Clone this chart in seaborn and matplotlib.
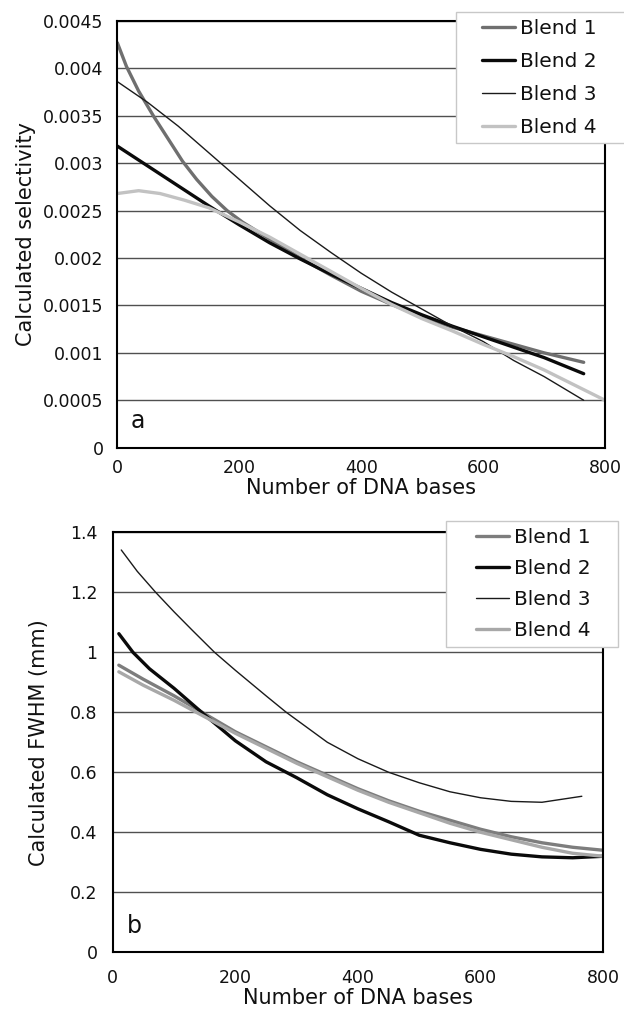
import numpy as np
import pandas as pd
import seaborn as sns
import matplotlib.pyplot as plt
from matplotlib.patches import Rectangle
from matplotlib.ticker import FuncFormatter, MultipleLocator

# DATA -------------------------------------------------------------------------------------------

blends = ['Blend 1', 'Blend 2', 'Blend 3', 'Blend 4']

# panel a: calculated selectivity vs number of DNA bases
sel_x_1 = [0, 15, 35, 60, 85, 107, 130, 155, 180, 205, 230, 260, 300, 350, 400, 450, 500,
           550, 600, 650, 700, 765]
sel_y_1 = [0.00427, 0.00402, 0.00376, 0.00349, 0.00324, 0.00302, 0.00283, 0.00265, 0.00250,
           0.00238, 0.00228, 0.00216, 0.00200, 0.00182, 0.00165, 0.00151, 0.00138, 0.00127,
           0.00118, 0.00109, 0.00100, 0.00090]
sel_x_2 = [0, 50, 100, 150, 200, 250, 300, 350, 400, 450, 500, 550, 600, 650, 700, 765]
sel_y_2 = [0.00318, 0.00297, 0.00276, 0.00255, 0.00235, 0.00216, 0.00199, 0.00183,
           0.00168, 0.00153, 0.00140, 0.00128, 0.00117, 0.00106, 0.00095, 0.00078]
sel_x_3 = [0, 50, 100, 150, 200, 250, 300, 350, 400, 450, 500, 550, 600, 650, 700, 765]
sel_y_3 = [0.00386, 0.00364, 0.00339, 0.00311, 0.00283, 0.00255, 0.00229, 0.00206,
           0.00184, 0.00164, 0.00146, 0.00128, 0.00112, 0.00092, 0.00075, 0.00050]
sel_x_4 = [0, 35, 70, 110, 150, 200, 250, 300, 350, 400, 450, 500, 550, 600, 650, 700, 750, 800]
sel_y_4 = [0.00268, 0.00271, 0.00268, 0.00261, 0.00253, 0.00238, 0.00222, 0.00204, 0.00186,
           0.00168, 0.00151, 0.00136, 0.00123, 0.00109, 0.00096, 0.00082, 0.00066, 0.00050]

# panel b: calculated FWHM (mm) vs number of DNA bases
fw_x_1 = [10, 50, 100, 150, 200, 250, 300, 350, 400, 450, 500, 550, 600, 650, 700, 750, 800]
fw_y_1 = [0.957, 0.91, 0.855, 0.795, 0.735, 0.685, 0.635, 0.59, 0.545, 0.505, 0.47,
          0.44, 0.41, 0.385, 0.365, 0.35, 0.34]
fw_x_2 = [10, 33, 60, 100, 145, 200, 250, 300, 350, 400, 450, 500, 550, 600, 650, 700, 750, 800]
fw_y_2 = [1.062, 1.0, 0.945, 0.88, 0.80, 0.705, 0.635, 0.582, 0.525, 0.478, 0.435, 0.39,
          0.365, 0.343, 0.327, 0.318, 0.315, 0.32]
fw_x_3 = [14, 40, 70, 100, 130, 166, 200, 250, 283, 350, 400, 450, 500, 550, 600, 650, 700, 765]
fw_y_3 = [1.341, 1.27, 1.20, 1.135, 1.073, 1.0, 0.94, 0.855, 0.80, 0.70, 0.645, 0.60, 0.565,
          0.535, 0.515, 0.503, 0.50, 0.52]
fw_x_4 = [10, 50, 100, 150, 200, 250, 300, 350, 400, 450, 500, 550, 600, 650, 700, 750, 800]
fw_y_4 = [0.935, 0.89, 0.84, 0.785, 0.73, 0.68, 0.63, 0.585, 0.54, 0.50, 0.465,
          0.43, 0.40, 0.375, 0.35, 0.33, 0.32]

# STYLE ------------------------------------------------------------------------------------------

sns.set_style("white")
plt.rcParams['font.family'] = ['DejaVu Sans']

styles_a = {'Blend 1': ('#6f6f6f', 2.4), 'Blend 2': ('#0a0a0a', 2.4),
            'Blend 3': ('#1a1a1a', 1.0), 'Blend 4': ('#c2c2c2', 2.4)}
styles_b = {'Blend 1': ('#7d7d7d', 2.4), 'Blend 2': ('#0a0a0a', 2.4),
            'Blend 3': ('#1a1a1a', 1.0), 'Blend 4': ('#a8a8a8', 2.4)}

W, H = 624, 1011
fig = plt.figure(figsize=(W / 100, H / 100), dpi=100)
ax_a = fig.add_axes([0.188, 0.5572, 0.7816, 0.4221])
ax_b = fig.add_axes([0.1806, 0.0581, 0.7862, 0.4154])

# per panel: ylabel, ymax, ystep, tag, legend anchor px, legend box px, labelspacing,
# x tick pad, y tick pad, ylabel pad
panels = [
    (ax_a, [(sel_x_1, sel_y_1), (sel_x_2, sel_y_2), (sel_x_3, sel_y_3), (sel_x_4, sel_y_4)],
     styles_a, 'Calculated selectivity', 0.0045, 0.0005, 'a',
     (482, 19), (456, 12, 630, 143), 0.7, 8, 10, 5),
    (ax_b, [(fw_x_1, fw_y_1), (fw_x_2, fw_y_2), (fw_x_3, fw_y_3), (fw_x_4, fw_y_4)],
     styles_b, 'Calculated FWHM (mm)', 1.4, 0.2, 'b',
     (476, 528), (446, 521, 618, 647), 0.6, 12, 11, 15),
]

for ax, series, styles, ylabel, ymax, ystep, tag, anchor, box, lsp, xpad, ypad, ylpad in panels:
    # grid first so the curves sit on top
    ax.yaxis.set_major_locator(MultipleLocator(ystep))
    ax.grid(axis='y', color='#505050', linewidth=1.0)
    ax.set_axisbelow(True)
    for name, (xs, ys) in zip(blends, series):
        color, lw = styles[name]
        df = pd.DataFrame({'x': xs, 'y': ys})
        sns.lineplot(data=df, x='x', y='y', ax=ax, color=color, linewidth=lw,
                     label=name, legend=False)
    ax.set_xlim(0, 800)
    ax.set_ylim(0, ymax)
    ax.xaxis.set_major_locator(MultipleLocator(200))
    ax.yaxis.set_major_formatter(FuncFormatter(lambda v, p: '{:g}'.format(round(v, 6))))
    ax.tick_params(axis='both', labelsize=12.5, length=0, labelcolor='#111111')
    ax.tick_params(axis='x', pad=xpad)
    ax.tick_params(axis='y', pad=ypad)
    ax.set_xlabel('Number of DNA bases', fontsize=15, labelpad=1, color='#111111')
    ax.set_ylabel(ylabel, fontsize=15, labelpad=ylpad, color='#111111')
    for s in ax.spines.values():
        s.set_color('black')
        s.set_linewidth(1.5)
    ax.text(0.028, 0.035, tag, transform=ax.transAxes, fontsize=17, va='bottom', ha='left',
            color='#111111')

    # legend box (Excel style, extra room on the left) and the legend entries
    x0, y0, x1, y1 = box
    fig.patches.append(Rectangle((x0 / W, 1 - y1 / H), (x1 - x0) / W, (y1 - y0) / H,
                                 transform=fig.transFigure, facecolor='white',
                                 edgecolor='#c8c8c8', linewidth=1.0, zorder=1))
    handles, labels = ax.get_legend_handles_labels()
    fig.legend(handles, labels, loc='upper left',
               bbox_to_anchor=(anchor[0] / W, 1 - anchor[1] / H),
               bbox_transform=fig.transFigure, fontsize=14.5, frameon=False,
               handlelength=1.65, handletextpad=0.25, labelspacing=lsp,
               borderpad=0, borderaxespad=0, labelcolor='#111111')

fig.savefig('out.png', dpi=100)
